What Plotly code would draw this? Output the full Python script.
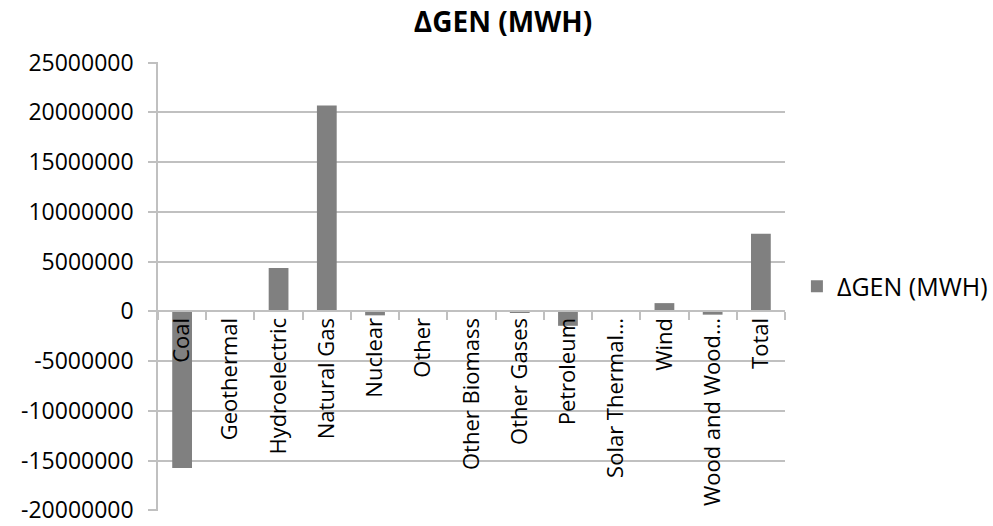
import plotly.graph_objects as go

# Change in generation by fuel source (MWh)
categories = ["Coal", "Geothermal", "Hydroelectric", "Natural Gas", "Nuclear", "Other",
              "Other Biomass", "Other Gases", "Petroleum", "Solar Thermal…", "Wind",
              "Wood and Wood…", "Total"]
delta_gen = [-15750000, 30000, 4350000, 20700000, -400000, 100000,
             20000, -100000, -1450000, 20000, 830000, -330000, 7800000]
y_ticks = [25000000, 20000000, 15000000, 10000000, 5000000, 0,
           -5000000, -10000000, -15000000, -20000000]
series_name = "ΔGEN (MWH)"

FONT = "Open Sans"
GRID = "#c0c0c0"
y_min, y_max = -20000000, 25000000
pad = 60000  # keeps the end gridlines/labels inside the range

fig = go.Figure(go.Bar(
    x=categories, y=delta_gen, name=series_name,
    marker=dict(color="#808080", line=dict(width=0)),
    showlegend=True,
))

fig.update_layout(
    width=993, height=526,
    margin=dict(l=158, r=208, t=62, b=15, autoexpand=False),
    paper_bgcolor="white", plot_bgcolor="white",
    font=dict(family=FONT, size=24, color="#000000"),
    bargap=0.59,
    title=dict(text="<b>" + series_name + "</b>", x=503 / 993, xanchor="center",
               y=1 - 22 / 526, yanchor="middle",
               font=dict(family=FONT, size=28, color="#000000")),
    legend=dict(x=1.019, xanchor="left", y=0.5, yanchor="middle",
                font=dict(family=FONT, size=25, color="#000000"),
                bgcolor="rgba(0,0,0,0)"),
    xaxis=dict(
        type="category",
        anchor="free",
        position=(0 - (y_min - pad)) / ((y_max + pad) - (y_min - pad)),
        showline=True, linecolor=GRID, linewidth=1.5,
        showgrid=False, automargin=False,
        ticks="outside", tickson="boundaries", ticklen=8, tickcolor=GRID,
        tickwidth=1.5,
        tickangle=-90,
        ticklabelstandoff=-3,
        ticklabeloverflow="allow",
        tickfont=dict(family=FONT, size=22, color="#000000"),
    ),
    yaxis=dict(
        range=[y_min - pad, y_max + pad],
        tickvals=y_ticks,
        ticktext=[str(v) for v in y_ticks],
        showgrid=True, gridcolor=GRID, gridwidth=1.5,
        zeroline=False, automargin=False,
        showline=True, linecolor=GRID, linewidth=1.5,
        ticks="outside", ticklen=8, tickcolor=GRID, tickwidth=1.5,
        ticklabelstandoff=10,
        ticklabeloverflow="allow",
        tickfont=dict(family=FONT, size=23, color="#000000"),
    ),
)

fig.write_html("out.html")
